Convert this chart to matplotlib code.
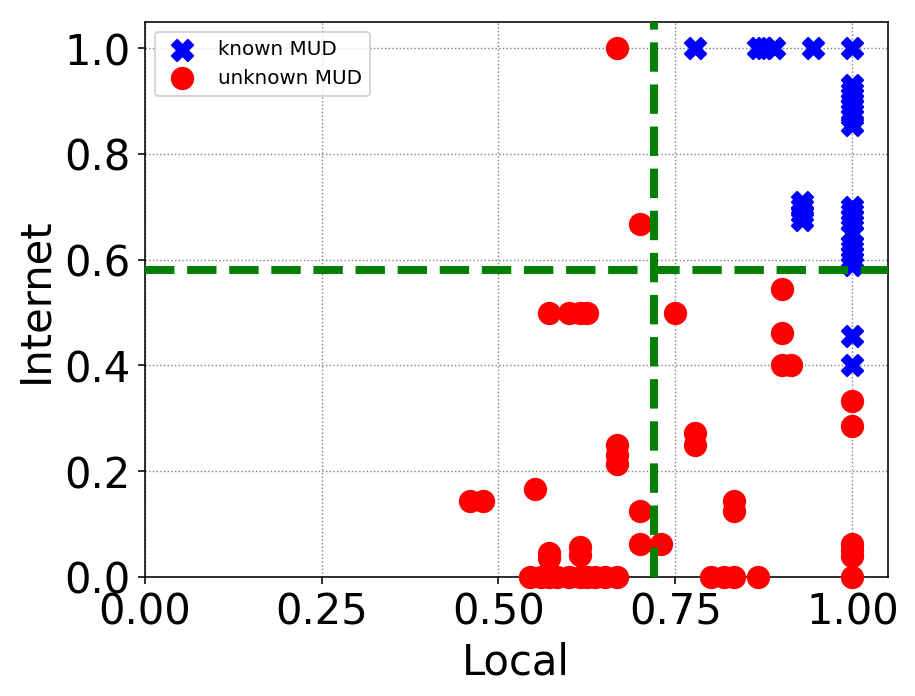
import matplotlib
matplotlib.use("Agg")
import matplotlib.pyplot as plt

# known MUD (blue crosses)
known_local = [0.778, 0.867, 0.875, 0.889, 0.944, 1.0,
               1.0, 1.0, 1.0, 1.0, 1.0, 1.0, 1.0, 1.0,
               0.929, 0.929, 0.929, 0.929,
               1.0, 1.0, 1.0, 1.0, 1.0, 1.0, 1.0, 1.0, 1.0, 1.0,
               1.0, 1.0]
known_internet = [1.0, 1.0, 1.0, 1.0, 1.0, 1.0,
                  0.93, 0.92, 0.91, 0.90, 0.89, 0.88, 0.87, 0.855,
                  0.71, 0.70, 0.686, 0.675,
                  0.70, 0.69, 0.68, 0.67, 0.65, 0.63, 0.62, 0.61, 0.60, 0.59,
                  0.455, 0.40]

# unknown MUD (red circles)
unknown_local = [0.667, 0.70,
                 0.571, 0.60, 0.615, 0.625, 0.75,
                 0.667, 0.667, 0.667,
                 0.46, 0.478, 0.552, 0.70, 0.70, 0.73,
                 0.571, 0.571, 0.615, 0.615,
                 0.545, 0.56, 0.571, 0.583, 0.60, 0.615, 0.625, 0.636, 0.65, 0.667,
                 0.90, 0.90, 0.90, 0.914,
                 1.0, 1.0,
                 0.778, 0.778, 0.833, 0.833,
                 1.0, 1.0, 1.0, 1.0,
                 0.80, 0.818, 0.833, 0.867]
unknown_internet = [1.0, 0.667,
                    0.5, 0.5, 0.5, 0.5, 0.5,
                    0.25, 0.231, 0.214,
                    0.143, 0.143, 0.167, 0.125, 0.0625, 0.0625,
                    0.045, 0.036, 0.057, 0.042,
                    0.0, 0.0, 0.0, 0.0, 0.0, 0.0, 0.0, 0.0, 0.0, 0.0,
                    0.545, 0.4615, 0.4, 0.4,
                    0.333, 0.2857,
                    0.273, 0.25, 0.143, 0.125,
                    0.0625, 0.05, 0.04, 0.0,
                    0.0, 0.0, 0.0, 0.0]

local_thr = 0.72
internet_thr = 0.58

fig, ax = plt.subplots(figsize=(6.4, 4.87), dpi=143)
fig.subplots_adjust(left=0.158, right=0.970, top=0.968, bottom=0.171)

ax.scatter(known_local, known_internet, marker="X", s=115, color="blue",
           label="known MUD", zorder=3, clip_on=False)
ax.scatter(unknown_local, unknown_internet, marker="o", s=115, color="red",
           label="unknown MUD", zorder=3, clip_on=False)
ax.axvline(local_thr, color="green", ls="--", lw=4, zorder=4)
ax.axhline(internet_thr, color="green", ls="--", lw=4, zorder=4)

ax.set_xlim(0, 1.05)
ax.set_ylim(0, 1.05)
ax.set_xticks([0, 0.25, 0.5, 0.75, 1.0])
ax.set_yticks([0, 0.2, 0.4, 0.6, 0.8, 1.0])
ax.grid(True, ls=":", color="gray", lw=0.7)
ax.tick_params(labelsize=21)
ax.set_xlabel("Local", fontsize=21)
ax.set_ylabel("Internet", fontsize=21)
ax.legend(loc="upper left", fontsize=10)

fig.savefig("out.png", dpi=143, facecolor="white")
